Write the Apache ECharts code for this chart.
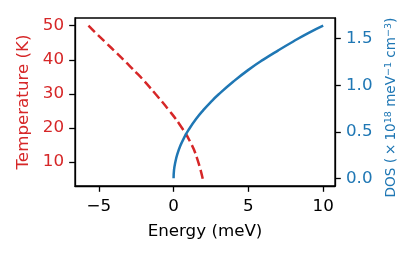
<!DOCTYPE html>
<html><head><meta charset="utf-8">
<script src="https://cdn.jsdelivr.net/npm/echarts@6/dist/echarts.min.js"></script>
<style>html,body{margin:0;padding:0;background:#fff}#c{width:415px;height:257px}</style>
</head><body><div id="c"></div>
<script>
const tempEnergy = [-5.69, -5.19, -4.52, -3.86, -3.19, -2.53, -1.97, -1.22, -0.33, 0.45, 1.11, 1.56, 1.95];
const tempValues = [50, 47.8, 45.0, 42.2, 39.3, 36.4, 33.8, 30.0, 25.3, 20.7, 15.9, 11.2, 5.0];
const dosEnergy = [0, 0.03, 0.11, 0.25, 0.45, 0.7, 1.0, 1.5, 2.0, 2.5, 3, 4, 5, 6, 7, 8, 9, 10];
const dosValues = [0, 0.09, 0.17, 0.26, 0.35, 0.435, 0.52, 0.637, 0.735, 0.822, 0.90, 1.04, 1.165, 1.275, 1.375, 1.47, 1.56, 1.64];
const xTicks = [-5, 0, 5, 10];
const tempTicks = [10, 20, 30, 40, 50];
const dosTicks = [0, 0.5, 1.0, 1.5];

const RED = '#d62728', BLUE = '#1f77b4';
const FONT = 'DejaVu Sans';
const FS = 16.7;
const fmtMinus = v => (v < 0 ? '\u2212' + Math.abs(v) : String(v));

const chart = echarts.init(document.getElementById('c'), null, {renderer: 'canvas'});
chart.setOption({
  animation: false,
  backgroundColor: '#fff',
  grid: {left: 75, right: 80, top: 18, bottom: 71, show: true, borderColor: '#000', borderWidth: 1.3, backgroundColor: 'transparent'},
  xAxis: {
    type: 'value', min: -6.59, max: 10.79,
    name: 'Energy (meV)', nameLocation: 'middle', nameGap: 37,
    nameTextStyle: {color: '#000', fontFamily: FONT, fontSize: FS},
    axisLine: {show: true, onZero: false, lineStyle: {color: '#000', width: 1.3}},
    axisTick: {show: true, length: 5.8, lineStyle: {color: '#000', width: 1.3}, customValues: xTicks},
    axisLabel: {color: '#000', fontFamily: FONT, fontSize: FS, margin: 12, customValues: xTicks, formatter: fmtMinus},
    splitLine: {show: false}
  },
  yAxis: [{
    type: 'value', min: 2.92, max: 52.27, position: 'left',
    name: 'Temperature (K)', nameLocation: 'middle', nameGap: 43,
    nameTextStyle: {color: RED, fontFamily: FONT, fontSize: FS},
    axisLine: {show: true, onZero: false, lineStyle: {color: '#000', width: 1.3}},
    axisTick: {show: true, length: 5.8, lineStyle: {color: '#000', width: 1.3}, customValues: tempTicks},
    axisLabel: {color: RED, fontFamily: FONT, fontSize: FS, margin: 11, customValues: tempTicks},
    splitLine: {show: false}
  }, {
    type: 'value', min: -0.082, max: 1.722, position: 'right',
    name: 'DOS ({m|\u00d7}10{s|18} meV{s|\u22121} cm{s|\u22123})', nameLocation: 'middle', nameGap: 46, nameRotate: 90,
    nameTextStyle: {color: BLUE, fontFamily: FONT, fontSize: 13.6, lineHeight: 17, verticalAlign: 'bottom', padding: [0, 11, 0, 0],
      rich: {
        s: {fontFamily: FONT, fontSize: 9.5, color: BLUE, verticalAlign: 'top', lineHeight: 17},
        m: {fontFamily: FONT, fontSize: 13.6, color: BLUE, padding: [0, 3, 0, 3], lineHeight: 17}
      }},
    axisLine: {show: true, onZero: false, lineStyle: {color: '#000', width: 1.3}},
    axisTick: {show: true, length: 5.8, lineStyle: {color: '#000', width: 1.3}, customValues: dosTicks},
    axisLabel: {color: BLUE, fontFamily: FONT, fontSize: FS, margin: 11, customValues: dosTicks, formatter: v => v.toFixed(1)},
    splitLine: {show: false}
  }],
  series: [{
    type: 'line', yAxisIndex: 0, showSymbol: false, smooth: 0.5,
    data: tempEnergy.map((e, i) => [e, tempValues[i]]),
    lineStyle: {color: RED, width: 2.5, type: [9.2, 4]}
  }, {
    type: 'line', yAxisIndex: 1, showSymbol: false, smooth: 0.5,
    data: dosEnergy.map((e, i) => [e, dosValues[i]]),
    lineStyle: {color: BLUE, width: 2.5}
  }]
});
</script></body></html>
